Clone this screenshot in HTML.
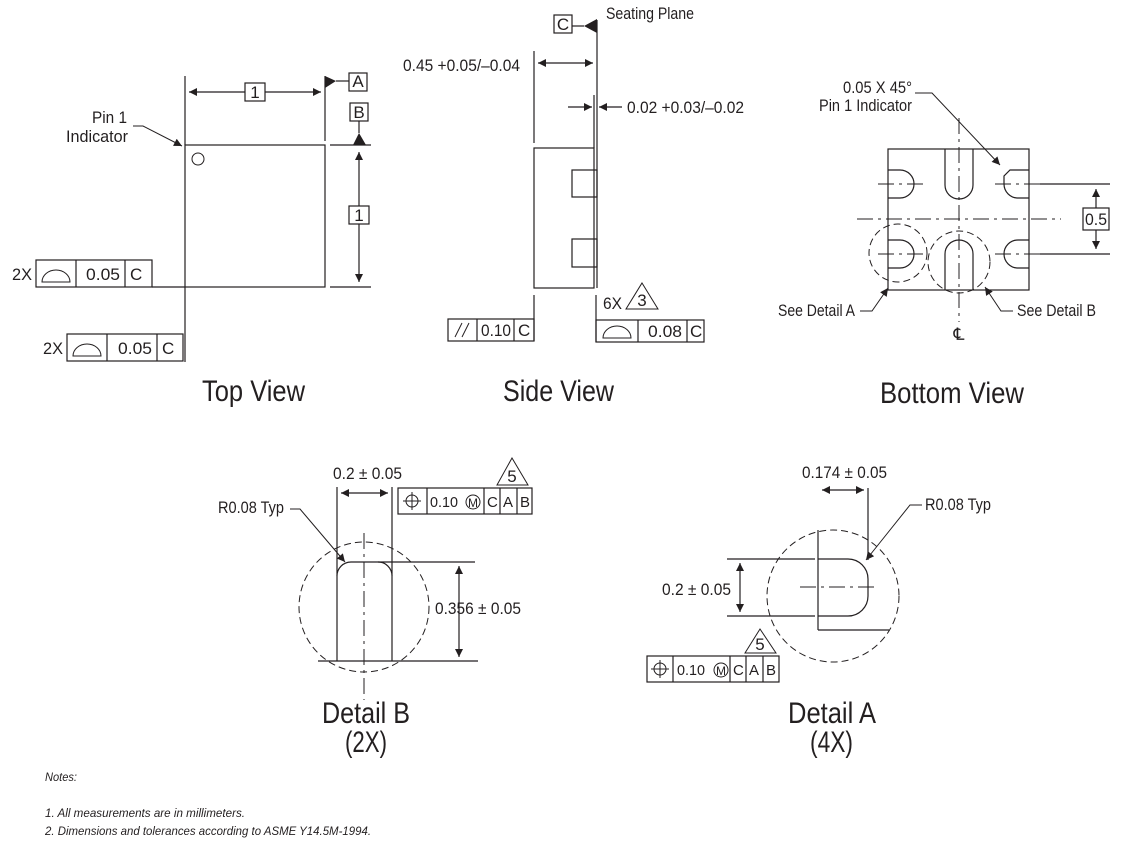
<!DOCTYPE html>
<html><head><meta charset="utf-8"><style>
html,body{margin:0;padding:0;background:#fff}
svg{display:block}
text{font-family:"Liberation Sans Narrow","Liberation Sans",sans-serif;fill:#231f20}
</style></head><body>
<svg width="1132" height="844" viewBox="0 0 1132 844" xmlns="http://www.w3.org/2000/svg">
<defs>
<marker id="a" viewBox="0 0 10 10" refX="10" refY="5" markerWidth="12" markerHeight="8" markerUnits="userSpaceOnUse" orient="auto-start-reverse"><path d="M0,0 L10,5 L0,10 z" fill="#231f20"/></marker>
</defs>
<g stroke="#231f20" stroke-width="1.2" fill="none">
<!-- TOP VIEW -->
<rect x="185" y="145" width="140" height="142"/>
<line x1="185" y1="76" x2="185" y2="145"/>
<line x1="185" y1="287" x2="185" y2="362"/>
<line x1="325" y1="76" x2="325" y2="141"/>
<line x1="189" y1="92" x2="245" y2="92" marker-start="url(#a)"/>
<line x1="265" y1="92" x2="321" y2="92" marker-end="url(#a)"/>
<rect x="245" y="83" width="20" height="18"/>
<line x1="336" y1="81" x2="349" y2="81"/>
<rect x="349" y="73" width="18" height="18"/>
<rect x="350" y="103" width="18" height="18"/>
<line x1="359" y1="121" x2="359" y2="133"/>
<line x1="330" y1="145" x2="371" y2="145"/>
<line x1="330" y1="287" x2="371" y2="287"/>
<line x1="359" y1="152" x2="359" y2="206" marker-start="url(#a)"/>
<line x1="359" y1="224" x2="359" y2="282" marker-end="url(#a)"/>
<rect x="349" y="206" width="20" height="18"/>
<circle cx="198" cy="159" r="6" stroke-width="1"/>
<polyline points="133,126 143,126 182,146" marker-end="url(#a)" stroke-width="1"/>
<rect x="36" y="260" width="116" height="27"/>
<line x1="76" y1="260" x2="76" y2="287"/><line x1="125" y1="260" x2="125" y2="287"/>
<line x1="152" y1="287" x2="185" y2="287"/>
<path d="M42,282 A14,12 0 0 1 70,282 Z" stroke-width="1"/>
<rect x="67" y="334" width="116" height="27"/>
<line x1="107" y1="334" x2="107" y2="361"/><line x1="157" y1="334" x2="157" y2="361"/>
<path d="M73,356 A14,12 0 0 1 101,356 Z" stroke-width="1"/>

<!-- SIDE VIEW -->
<rect x="554" y="15" width="18" height="18"/>
<line x1="572" y1="26" x2="584" y2="26"/>
<line x1="597" y1="20" x2="597" y2="148"/>
<line x1="594" y1="95" x2="594" y2="148"/>
<line x1="534" y1="51" x2="534" y2="143"/>
<line x1="538" y1="63" x2="593" y2="63" marker-start="url(#a)" marker-end="url(#a)"/>
<line x1="568" y1="107" x2="592" y2="107" marker-end="url(#a)"/>
<line x1="622" y1="107" x2="599" y2="107" marker-end="url(#a)"/>
<rect x="534" y="148" width="60" height="140"/>
<line x1="597" y1="148" x2="597" y2="288"/>
<rect x="572" y="170" width="25" height="27"/>
<rect x="572" y="239" width="25" height="28"/>
<line x1="534" y1="295" x2="534" y2="341"/>
<line x1="596" y1="295" x2="596" y2="342"/>
<rect x="448" y="319" width="86" height="22"/>
<line x1="477" y1="319" x2="477" y2="341"/><line x1="514" y1="319" x2="514" y2="341"/>
<line x1="455" y1="337" x2="462" y2="323" stroke-width="1"/><line x1="462" y1="337" x2="469" y2="323" stroke-width="1"/>
<rect x="596" y="320" width="108" height="22"/>
<line x1="638" y1="320" x2="638" y2="342"/><line x1="687" y1="320" x2="687" y2="342"/>
<path d="M603,338 A14,12 0 0 1 631,338 Z" stroke-width="1"/>
<path d="M642,283 L658,309 L626,309 Z" stroke-width="1"/>

<!-- BOTTOM VIEW -->
<rect x="888" y="149" width="141" height="141"/>
<g stroke-dasharray="16,5,3,5" stroke-width="1">
<line x1="959" y1="118" x2="959" y2="322"/>
<line x1="857" y1="219" x2="1061" y2="219"/>
<line x1="878" y1="184" x2="925" y2="184"/>
<line x1="878" y1="254" x2="925" y2="254"/>
<line x1="995" y1="184" x2="1040" y2="184"/>
<line x1="995" y1="254" x2="1040" y2="254"/>
</g>
<path d="M888,170 H900 A14,14 0 0 1 900,198 H888"/>
<path d="M888,240 H900 A14,14 0 0 1 900,268 H888"/>
<path d="M1029,170 H1010 L1004,176 V184 A14,14 0 0 0 1018,198 H1029"/>
<path d="M1029,240 H1018 A14,14 0 0 0 1018,268 H1029"/>
<path d="M945,149 V185 A14,14 0 0 0 973,185 V149"/>
<path d="M945,290 V254 A14,14 0 0 1 973,254 V290"/>
<circle cx="898" cy="253" r="29" stroke-dasharray="7,4" stroke-width="1"/>
<circle cx="959" cy="262" r="31" stroke-dasharray="7,4" stroke-width="1"/>
<line x1="1040" y1="184" x2="1110" y2="184"/>
<line x1="1040" y1="254" x2="1110" y2="254"/>
<line x1="1096" y1="189" x2="1096" y2="208" marker-start="url(#a)"/>
<line x1="1096" y1="230" x2="1096" y2="249" marker-end="url(#a)"/>
<rect x="1083" y="208" width="26" height="22"/>
<polyline points="915,93 932,93 1000,165" marker-end="url(#a)" stroke-width="1"/>
<polyline points="860,311 872,311 888,288" marker-end="url(#a)" stroke-width="1"/>
<polyline points="1013,311 1001,311 985,287" marker-end="url(#a)" stroke-width="1"/>

<!-- DETAIL B -->
<line x1="337" y1="487" x2="337" y2="661"/>
<line x1="392" y1="487" x2="392" y2="661"/>
<path d="M337,576 A14,14 0 0 1 351,562 H378 A14,14 0 0 1 392,576" fill="#fff"/>
<line x1="378" y1="562" x2="475" y2="562"/>
<line x1="318" y1="661" x2="478" y2="661"/>
<line x1="459" y1="566" x2="459" y2="657" marker-start="url(#a)" marker-end="url(#a)"/>
<line x1="341" y1="493" x2="388" y2="493" marker-start="url(#a)" marker-end="url(#a)"/>
<circle cx="364" cy="607" r="65" stroke-dasharray="7,4" stroke-width="1"/>
<line x1="364" y1="533" x2="364" y2="700" stroke-dasharray="16,5,3,5" stroke-width="1"/>
<rect x="398" y="488" width="134" height="26"/>
<line x1="427" y1="488" x2="427" y2="514"/><line x1="484" y1="488" x2="484" y2="514"/><line x1="500" y1="488" x2="500" y2="514"/><line x1="517" y1="488" x2="517" y2="514"/>
<circle cx="412" cy="501" r="6" stroke-width="1"/><line x1="403" y1="501" x2="421" y2="501" stroke-width="1"/><line x1="412" y1="492" x2="412" y2="510" stroke-width="1"/>
<circle cx="473" cy="502" r="7" stroke-width="1"/>
<path d="M512,458 L528,485 L497,485 Z" stroke-width="1"/>
<polyline points="290,509 300,509 345,562" marker-end="url(#a)" stroke-width="1"/>

<!-- DETAIL A -->
<line x1="818" y1="530" x2="818" y2="630"/>
<line x1="868" y1="488" x2="868" y2="560"/>
<line x1="818" y1="630" x2="889" y2="630"/>
<path d="M818,559 H848 A20,20 0 0 1 868,579 V596 A20,20 0 0 1 848,616 H818"/>
<line x1="727" y1="559" x2="815" y2="559"/>
<line x1="727" y1="616" x2="815" y2="616"/>
<line x1="740" y1="563" x2="740" y2="612" marker-start="url(#a)" marker-end="url(#a)"/>
<line x1="822" y1="490" x2="864" y2="490" marker-start="url(#a)" marker-end="url(#a)"/>
<circle cx="833" cy="596" r="66" stroke-dasharray="7,4" stroke-width="1"/>
<line x1="800" y1="587" x2="879" y2="587" stroke-dasharray="16,5,3,5" stroke-width="1"/>
<rect x="647" y="656" width="132" height="26"/>
<line x1="673" y1="656" x2="673" y2="682"/><line x1="730" y1="656" x2="730" y2="682"/><line x1="746" y1="656" x2="746" y2="682"/><line x1="763" y1="656" x2="763" y2="682"/>
<circle cx="660" cy="669" r="6" stroke-width="1"/><line x1="651" y1="669" x2="669" y2="669" stroke-width="1"/><line x1="660" y1="660" x2="660" y2="678" stroke-width="1"/>
<circle cx="721" cy="670" r="7" stroke-width="1"/>
<path d="M760,629 L776,653 L745,653 Z" stroke-width="1"/>
<polyline points="922,505 910,505 866,560" marker-end="url(#a)" stroke-width="1"/>
</g>
<g fill="#231f20">
<path d="M325,76 L336,81 L325,88 Z"/>
<path d="M353,145 L359,133 L366,145 Z"/>
<path d="M584,26 L597,19 L597,33 Z"/>
</g>

<g font-size="17" lengthAdjust="spacingAndGlyphs">
<text x="92" y="123" textLength="35" lengthAdjust="spacingAndGlyphs">Pin 1</text>
<text x="66" y="142" textLength="62" lengthAdjust="spacingAndGlyphs">Indicator</text>
<text x="255" y="98" text-anchor="middle">1</text>
<text x="358" y="87" text-anchor="middle">A</text>
<text x="359" y="118" text-anchor="middle">B</text>
<text x="359" y="221" text-anchor="middle">1</text>
<text x="12" y="280" textLength="20" lengthAdjust="spacingAndGlyphs">2X</text>
<text x="86" y="280" textLength="34" lengthAdjust="spacingAndGlyphs">0.05</text>
<text x="130" y="280">C</text>
<text x="43" y="354" textLength="20" lengthAdjust="spacingAndGlyphs">2X</text>
<text x="118" y="354" textLength="34" lengthAdjust="spacingAndGlyphs">0.05</text>
<text x="162" y="354">C</text>

<text x="606" y="19" textLength="88" lengthAdjust="spacingAndGlyphs">Seating Plane</text>
<text x="563" y="30" text-anchor="middle">C</text>
<text x="403" y="71" textLength="117" lengthAdjust="spacingAndGlyphs">0.45 +0.05/–0.04</text>
<text x="627" y="113" textLength="117" lengthAdjust="spacingAndGlyphs">0.02 +0.03/–0.02</text>
<text x="603" y="309" textLength="19" lengthAdjust="spacingAndGlyphs">6X</text>
<text x="642" y="306" text-anchor="middle">3</text>
<text x="481" y="336" textLength="30" lengthAdjust="spacingAndGlyphs">0.10</text>
<text x="518" y="336">C</text>
<text x="648" y="337" textLength="34" lengthAdjust="spacingAndGlyphs">0.08</text>
<text x="690" y="337">C</text>

<text x="843" y="93" textLength="69" lengthAdjust="spacingAndGlyphs">0.05 X 45°</text>
<text x="819" y="111" textLength="93" lengthAdjust="spacingAndGlyphs">Pin 1 Indicator</text>
<text x="1085" y="225" textLength="22" lengthAdjust="spacingAndGlyphs">0.5</text>
<text x="778" y="316" textLength="77" lengthAdjust="spacingAndGlyphs">See Detail A</text>
<text x="1017" y="316" textLength="79" lengthAdjust="spacingAndGlyphs">See Detail B</text>
<text x="959" y="340" text-anchor="middle">℄</text>

<text x="333" y="479" textLength="69" lengthAdjust="spacingAndGlyphs">0.2 ± 0.05</text>
<text x="218" y="513" textLength="66" lengthAdjust="spacingAndGlyphs">R0.08 Typ</text>
<text x="435" y="614" textLength="86" lengthAdjust="spacingAndGlyphs">0.356 ± 0.05</text>
<text x="512" y="482" text-anchor="middle">5</text>
<text x="802" y="478" textLength="85" lengthAdjust="spacingAndGlyphs">0.174 ± 0.05</text>
<text x="925" y="510" textLength="66" lengthAdjust="spacingAndGlyphs">R0.08 Typ</text>
<text x="662" y="595" textLength="69" lengthAdjust="spacingAndGlyphs">0.2 ± 0.05</text>
<text x="760" y="650" text-anchor="middle">5</text>
</g>
<g font-size="15">
<text x="430" y="507" textLength="28" lengthAdjust="spacingAndGlyphs">0.10</text>
<text x="473" y="507" text-anchor="middle" font-size="12">M</text>
<text x="487" y="507">C</text>
<text x="503" y="507">A</text>
<text x="520" y="507">B</text>
<text x="677" y="675" textLength="28" lengthAdjust="spacingAndGlyphs">0.10</text>
<text x="721" y="675" text-anchor="middle" font-size="12">M</text>
<text x="733" y="675">C</text>
<text x="749" y="675">A</text>
<text x="766" y="675">B</text>
</g>
<g font-size="30">
<text x="202" y="401" textLength="103" lengthAdjust="spacingAndGlyphs">Top View</text>
<text x="503" y="401" textLength="111" lengthAdjust="spacingAndGlyphs">Side View</text>
<text x="880" y="403" textLength="144" lengthAdjust="spacingAndGlyphs">Bottom View</text>
<text x="322" y="723" textLength="88" lengthAdjust="spacingAndGlyphs">Detail B</text>
<text x="345" y="752" textLength="42" lengthAdjust="spacingAndGlyphs">(2X)</text>
<text x="788" y="723" textLength="88" lengthAdjust="spacingAndGlyphs">Detail A</text>
<text x="810" y="752" textLength="43" lengthAdjust="spacingAndGlyphs">(4X)</text>
</g>
<g font-size="12" font-style="italic">
<text x="45" y="781" textLength="32" lengthAdjust="spacingAndGlyphs">Notes:</text>
<text x="45" y="817" textLength="200" lengthAdjust="spacingAndGlyphs">1.  All measurements are in millimeters.</text>
<text x="45" y="835" textLength="326" lengthAdjust="spacingAndGlyphs">2.  Dimensions and tolerances according to ASME Y14.5M-1994.</text>
</g>
</svg>
</body></html>
